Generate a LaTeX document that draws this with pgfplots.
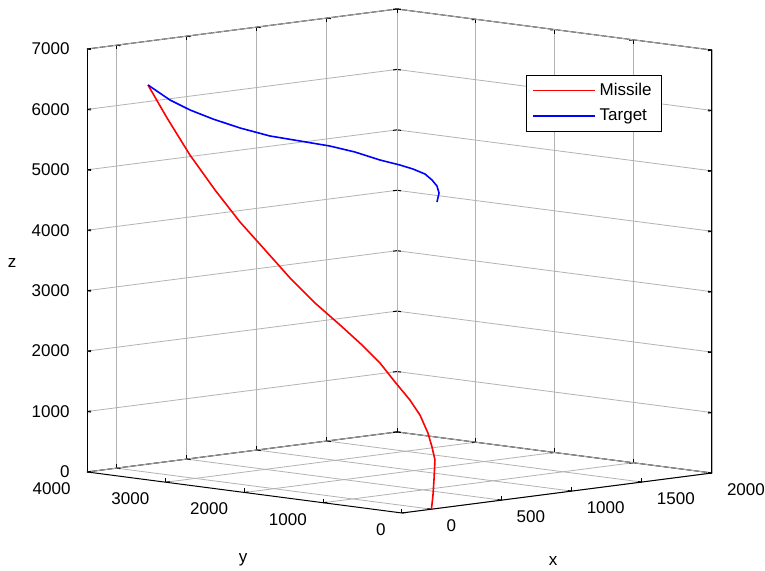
\documentclass[border=0pt]{standalone}
\usepackage{fontspec}
\setmainfont{Liberation Sans}
\usepackage{pgfplots}
\pgfplotsset{compat=1.18}

\begin{document}
\begin{tikzpicture}
\begin{axis}[
  x={(0.070135pt,0.00905pt)},
  y={(-0.039375pt,0.005125pt)},
  z={(0pt,0.0302145pt)},
  xmin=-210,xmax=2000,ymin=0,ymax=4000,zmin=0,zmax=7000,
  xtick={0,500,1000,1500,2000},
  ytick={0,1000,2000,3000,4000},
  ztick={0,1000,2000,3000,4000,5000,6000,7000},
  grid=major,
  major grid style={gray!60,line width=0.4pt},
  axis line style={black,line width=0.5pt},
  tick style={black,line width=0.5pt},
  major tick length=2pt,
  tick align=inside,
  scaled ticks=false,
  /pgf/number format/assume math mode=true,
  /pgf/number format/1000 sep={},
  tick label style={font=\fontsize{8.5}{10}\selectfont},
  xticklabel style={anchor=north west,xshift=4pt,yshift=-1.7pt},
  yticklabel style={anchor=north east,xshift=-4.7pt,yshift=-1.7pt},
  zticklabel style={anchor=east,xshift=-5.2pt},
  clip=false,
  legend style={at={(axis description cs:0.7024,0.8696)},anchor=north west,
    draw=black,fill=white,line width=0.5pt,
    font=\fontsize{8.5}{10}\selectfont,
    inner xsep=3pt,inner ysep=2pt,row sep=1pt,cells={anchor=west}},
  legend image code/.code={\path (0pt,0pt) -- (31pt,0pt);
    \draw[#1] (3.5pt,0pt) -- (30.5pt,0pt);},
]
\addlegendimage{color=red,line width=0.6pt}
\addlegendentry{Missile}
\addlegendimage{color=blue,line width=0.6pt}
\addlegendentry{Target}
% missile, launched from the origin
\addplot3[red,line width=0.8pt,forget plot] coordinates {
(0,0,0) (11,0,232) (18,0,478) (25,0,807) (4,0,1028) (2,48,1252)
(8,160,1529) (15,300,1752) (26,509,2011) (36,718,2287) (49,969,2538)
(65,1276,2812) (82,1625,3112) (100,1974,3461) (118,2323,3860)
(135,2672,4259) (153,3021,4724) (170,3370,5239) (187,3691,5792)
(200,3956,6289)};
% target
\addplot3[blue,line width=0.8pt,forget plot] coordinates {
(200,286,4975) (200,260,5129) (200,286,5240) (200,349,5329) (200,438,5413)
(200,591,5470) (200,756,5508) (200,1010,5548) (200,1327,5626)
(200,1645,5671) (200,2026,5690) (200,2407,5708) (200,2787,5776)
(200,3130,5866) (200,3422,5966) (200,3676,6088) (200,3956,6289)};
\coordinate (F) at (axis cs:-210,0,0);
\end{axis}
\node[font=\fontsize{8.5}{10}\selectfont] at ([shift={(75.5pt,-24pt)}]F) {x};
\node[font=\fontsize{8.5}{10}\selectfont] at ([shift={(-79.5pt,-23.5pt)}]F) {y};
\node[font=\fontsize{8.5}{10}\selectfont] at ([shift={(-195pt,125pt)}]F) {z};
\pgfresetboundingbox
\path[use as bounding box] ([shift={(-201pt,-29pt)}]F) rectangle ([shift={(181.5pt,256.5pt)}]F);
\end{tikzpicture}
\end{document}
